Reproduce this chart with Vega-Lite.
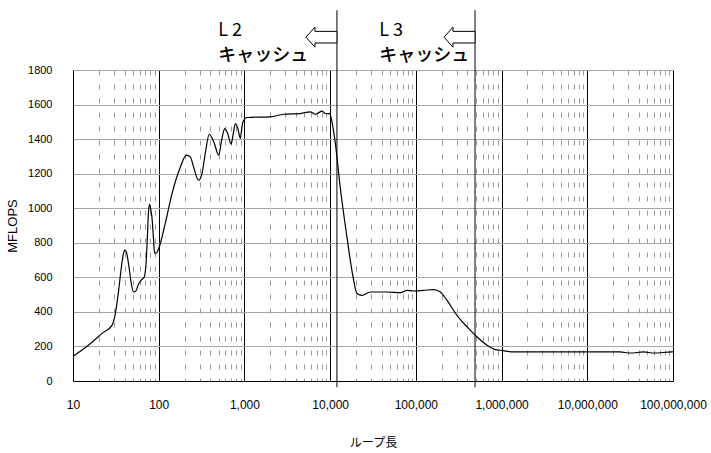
{
  "$schema": "https://vega.github.io/schema/vega-lite/v6.json",
  "width": 600,
  "height": 311,
  "autosize": "none",
  "padding": {"left": 73, "top": 70, "right": 38, "bottom": 72},
  "config": {
    "view": {"stroke": null},
    "font": "Liberation Sans",
    "axis": {"labelFont": "Liberation Sans", "titleFont": "Liberation Sans", "labelColor": "#000", "titleColor": "#000", "titleFontWeight": "normal", "domain": true, "domainWidth": 1, "domainColor": "#000", "domainOpacity": 1, "labelOverlap": false, "labelFlush": false, "labelBound": false, "ticks": false, "grid": true, "gridWidth": 1},
    "axisY": {"labelFontSize": 11, "labelPadding": 21, "titleFontSize": 13, "titlePadding": 8, "gridColor": "#a6a6a6"},
    "axisX": {"labelFontSize": 12, "labelPadding": 18, "titleFont": "Noto Sans CJK JP", "titleFontSize": 12, "titlePadding": 27}
  },
  "resolve": {"axis": {"y": "independent"}},
  "datasets": {
    "perf": [
      {"n": 10, "mflops": 143}, {"n": 15.9, "mflops": 216}, {"n": 22, "mflops": 277}, {"n": 28.5, "mflops": 322},
      {"n": 31.2, "mflops": 390}, {"n": 34, "mflops": 520}, {"n": 36.3, "mflops": 641}, {"n": 38.5, "mflops": 730},
      {"n": 40, "mflops": 757}, {"n": 42, "mflops": 745}, {"n": 45, "mflops": 660}, {"n": 48, "mflops": 560},
      {"n": 51, "mflops": 515}, {"n": 54, "mflops": 520}, {"n": 58, "mflops": 560}, {"n": 63, "mflops": 585},
      {"n": 67.8, "mflops": 602}, {"n": 71.6, "mflops": 699}, {"n": 74, "mflops": 850}, {"n": 76, "mflops": 980},
      {"n": 78.3, "mflops": 1023}, {"n": 81, "mflops": 990}, {"n": 83.3, "mflops": 950}, {"n": 87, "mflops": 820},
      {"n": 89.5, "mflops": 741}, {"n": 93, "mflops": 740}, {"n": 100, "mflops": 767}, {"n": 119, "mflops": 911},
      {"n": 143, "mflops": 1085}, {"n": 179, "mflops": 1239}, {"n": 210, "mflops": 1307}, {"n": 234, "mflops": 1297},
      {"n": 255, "mflops": 1239}, {"n": 292, "mflops": 1162}, {"n": 320, "mflops": 1201}, {"n": 350, "mflops": 1320},
      {"n": 389, "mflops": 1428}, {"n": 420, "mflops": 1405}, {"n": 446, "mflops": 1375}, {"n": 501, "mflops": 1307},
      {"n": 540, "mflops": 1390}, {"n": 589, "mflops": 1461}, {"n": 640, "mflops": 1430}, {"n": 698, "mflops": 1371},
      {"n": 740, "mflops": 1430}, {"n": 784, "mflops": 1490}, {"n": 840, "mflops": 1460}, {"n": 895, "mflops": 1404},
      {"n": 930, "mflops": 1460}, {"n": 961, "mflops": 1500}, {"n": 1072, "mflops": 1525}, {"n": 2003, "mflops": 1529},
      {"n": 2866, "mflops": 1544}, {"n": 4490, "mflops": 1548}, {"n": 5870, "mflops": 1558}, {"n": 6710, "mflops": 1544},
      {"n": 7300, "mflops": 1552}, {"n": 8040, "mflops": 1562}, {"n": 8790, "mflops": 1548}, {"n": 9870, "mflops": 1548},
      {"n": 10500, "mflops": 1500}, {"n": 11500, "mflops": 1375}, {"n": 13100, "mflops": 1123}, {"n": 15700, "mflops": 834},
      {"n": 18500, "mflops": 602}, {"n": 20600, "mflops": 506}, {"n": 23500, "mflops": 496}, {"n": 29400, "mflops": 515},
      {"n": 46100, "mflops": 515}, {"n": 65900, "mflops": 512}, {"n": 78900, "mflops": 525}, {"n": 94200, "mflops": 521},
      {"n": 123000, "mflops": 525}, {"n": 161000, "mflops": 529}, {"n": 193000, "mflops": 515}, {"n": 231000, "mflops": 467},
      {"n": 302000, "mflops": 380}, {"n": 396000, "mflops": 313}, {"n": 518000, "mflops": 255}, {"n": 677000, "mflops": 207},
      {"n": 847000, "mflops": 182}, {"n": 968000, "mflops": 178}, {"n": 1390000, "mflops": 168}, {"n": 3400000, "mflops": 168},
      {"n": 24000000, "mflops": 168}, {"n": 31700000, "mflops": 162}, {"n": 45500000, "mflops": 168}, {"n": 59600000, "mflops": 162},
      {"n": 98000000, "mflops": 168}, {"n": 100000000, "mflops": 168}
    ],
    "caches": [
      {"n": 12000, "level": "L 2", "caption": "キャッシュ", "labelAt": 494},
      {"n": 490000, "level": "L 3", "caption": "キャッシュ", "labelAt": 37300}
    ]
  },
  "encoding": {
    "x": {
      "field": "n", "type": "quantitative",
      "scale": {"type": "log", "domain": [10, 100000000], "nice": false},
      "axis": {
        "title": "ループ長",
        "values": [10,20,30,40,50,60,70,80,90,100,200,300,400,500,600,700,800,900,1000,2000,3000,4000,5000,6000,7000,8000,9000,10000,20000,30000,40000,50000,60000,70000,80000,90000,100000,200000,300000,400000,500000,600000,700000,800000,900000,1000000,2000000,3000000,4000000,5000000,6000000,7000000,8000000,9000000,10000000,20000000,30000000,40000000,50000000,60000000,70000000,80000000,90000000,100000000],
        "labelExpr": "abs(log(datum.value)/LN10 - round(log(datum.value)/LN10)) < 0.000001 ? format(datum.value, ',') : ''",
        "gridColor": {"condition": {"test": "abs(log(datum.value)/LN10 - round(log(datum.value)/LN10)) < 0.000001", "value": "#000"}, "value": "#999"},
        "gridDash": {"condition": {"test": "abs(log(datum.value)/LN10 - round(log(datum.value)/LN10)) < 0.000001", "value": []}, "value": [5, 9]}
      }
    }
  },
  "layer": [
    {
      "data": {"name": "perf"},
      "mark": {"type": "line", "color": "#000", "strokeWidth": 1.2, "interpolate": "monotone"},
      "encoding": {
        "y": {
          "field": "mflops", "type": "quantitative",
          "scale": {"domain": [0, 1800], "nice": false, "zero": true},
          "axis": {
            "title": "MFLOPS",
            "values": [0, 200, 400, 600, 800, 1000, 1200, 1400, 1600, 1800],
            "format": "d"
          }
        }
      }
    },
    {
      "data": {"name": "caches"},
      "mark": {"type": "rule", "color": "#000", "strokeWidth": 1},
      "encoding": {
        "y": {"datum": 2146, "type": "quantitative", "axis": null},
        "y2": {"datum": -36}
      }
    },
    {
      "data": {"name": "caches"},
      "mark": {"type": "point", "shape": "M -1 0 L -0.42 -0.645 L -0.42 -0.375 L 1 -0.375 L 1 0.375 L -0.42 0.375 L -0.42 0.645 Z", "size": 961, "filled": true, "fill": "#fff", "stroke": "#000", "strokeWidth": 1, "opacity": 1, "xOffset": -15.5},
      "encoding": {
        "y": {"datum": 1990, "type": "quantitative", "axis": null}
      }
    },
    {
      "data": {"name": "caches"},
      "mark": {"type": "text", "align": "left", "baseline": "middle", "font": "Noto Sans CJK JP", "fontSize": 18, "color": "#000"},
      "encoding": {
        "x": {"field": "labelAt", "type": "quantitative"},
        "y": {"datum": 2024, "type": "quantitative", "axis": null},
        "text": {"field": "level"}
      }
    },
    {
      "data": {"name": "caches"},
      "mark": {"type": "text", "align": "left", "baseline": "middle", "font": "Noto Sans CJK JP", "fontSize": 18, "fontWeight": 500, "color": "#000"},
      "encoding": {
        "x": {"field": "labelAt", "type": "quantitative"},
        "y": {"datum": 1879, "type": "quantitative", "axis": null},
        "text": {"field": "caption"}
      }
    }
  ]
}
